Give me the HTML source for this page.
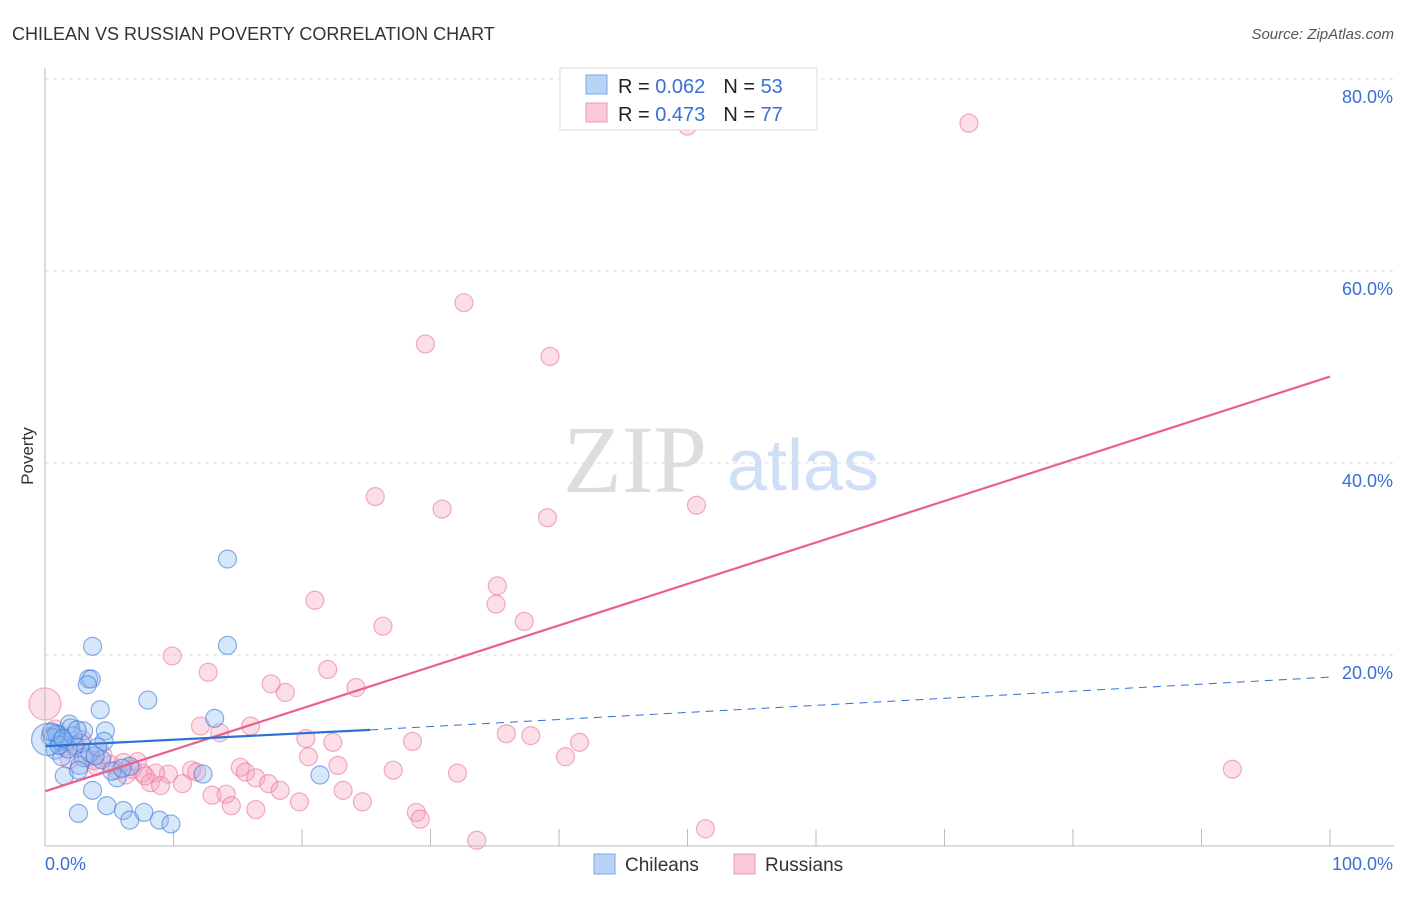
<!DOCTYPE html>
<html><head><meta charset="utf-8"><style>
body{margin:0;background:#fff;font-family:"Liberation Sans",sans-serif;}
#wrap{position:relative;width:1406px;height:892px;}
</style></head><body>
<div id="wrap">
<svg id="svg" width="1406" height="892">
<text x="12" y="40" font-size="18" fill="#333">CHILEAN VS RUSSIAN POVERTY CORRELATION CHART</text>
<text x="1394" y="39" font-size="15" fill="#555" font-style="italic" text-anchor="end">Source: ZipAtlas.com</text>
<text x="33" y="456" font-size="17" fill="#333" transform="rotate(-90 33 456)" text-anchor="middle">Poverty</text>
<text x="635" y="492" font-size="96" fill="#ddd" font-family="Liberation Serif,serif" text-anchor="middle">ZIP</text>
<text x="803" y="490" font-size="72" fill="#cfdff5" text-anchor="middle">atlas</text>
<g id="grid"></g><g id="pts"></g><g id="lines"></g>
<line x1="45" y1="68" x2="45" y2="846" stroke="#bbb"/>
<line x1="45" y1="846" x2="1394" y2="846" stroke="#bbb"/>
<text x="45" y="870" font-size="18" fill="#3a6fd8">0.0%</text>
<text x="1393" y="870" font-size="18" fill="#3a6fd8" text-anchor="end">100.0%</text>
<g>
<rect x="560" y="68" width="257" height="62" fill="#fff" stroke="#ddd"/>
<rect x="586" y="75" width="21" height="19" fill="#b8d3f5" stroke="#7aa7e6"/>
<rect x="586" y="103" width="21" height="19" fill="#fbc8d7" stroke="#ee9ab4"/>
<text x="618" y="93" font-size="20" fill="#222">R = <tspan fill="#3a6fd8">0.062</tspan><tspan dx="18">N = </tspan><tspan fill="#3a6fd8">53</tspan></text>
<text x="618" y="121" font-size="20" fill="#222">R = <tspan fill="#3a6fd8">0.473</tspan><tspan dx="18">N = </tspan><tspan fill="#3a6fd8">77</tspan></text>
</g>
<g>
<rect x="594" y="854" width="21" height="20" fill="#b8d3f5" stroke="#7aa7e6"/>
<text x="625" y="871" font-size="19" fill="#333">Chileans</text>
<rect x="734" y="854" width="21" height="20" fill="#fbc8d7" stroke="#ee9ab4"/>
<text x="765" y="871" font-size="19" fill="#333">Russians</text>
</g>
</svg></div>
<script>
const yTicks=[20,40,60,80];
const yTickLabels=["20.0%","40.0%","60.0%","80.0%"];
const xMinor=[10,20,30,40,50,60,70,80,90,100];
const chileX=[14.2,3.7,14.2,3.4,3.6,3.3,8.0,4.3,13.2,1.9,4.7,3.0,1.0,0.4,1.6,4.6,2.3,0.8,1.3,3.0,4.4,2.7,6.6,12.3,1.5,5.6,21.4,3.7,4.8,6.1,7.7,2.6,6.6,8.9,9.8,2.6,0.2,0.6,1.2,2.0,2.8,1.8,0.9,3.5,2.2,1.1,0.5,4.1,5.2,1.4,2.5,3.9,6.0];
const chileY=[30.0,20.9,21.0,17.5,17.5,16.9,15.3,14.3,13.4,12.8,12.1,12.1,11.7,11.5,11.0,11.0,10.5,10.1,9.4,9.3,9.1,8.5,8.4,7.6,7.4,7.2,7.5,5.9,4.3,3.8,3.6,3.5,2.8,2.8,2.4,8.0,11.2,11.4,11.0,12.4,10.8,10.2,11.8,9.8,11.6,10.6,12.0,10.4,7.9,11.3,12.2,9.5,8.2];
const chileR=[9,9,9,9,9,9,9,9,9,9,9,9,9,9,9,9,9,9,9,9,9,9,9,9,9,9,9,9,9,9,9,9,9,9,9,9,16,9,9,9,9,9,9,9,9,9,9,9,9,9,9,9,9];
const rusX=[50,71.9,32.6,29.6,39.3,25.7,30.9,39.1,50.7,35.2,35.1,21.0,37.3,26.3,9.9,12.7,22.0,17.6,18.7,24.2,16.0,12.1,13.6,20.3,22.4,28.6,35.9,37.8,41.6,20.5,40.5,92.4,27.1,32.1,22.8,15.2,15.6,11.4,11.8,16.4,9.6,8.6,7.6,7.2,6.3,5.1,4.0,8.2,9.0,10.7,17.4,18.3,23.2,13.0,14.1,14.5,16.4,19.8,24.7,28.9,29.2,33.6,51.4,0,1.2,1.9,3.3,2.4,6.8,5.6,4.5,0.8,2.9,3.8,7.8,6.1,1.5];
const rusY=[75.1,75.4,56.7,52.4,51.1,36.5,35.2,34.3,35.6,27.2,25.3,25.7,23.5,23.0,19.9,18.2,18.5,17.0,16.1,16.6,12.6,12.6,11.9,11.3,10.9,11.0,11.8,11.6,10.9,9.4,9.4,8.1,8.0,7.7,8.5,8.3,7.8,8.0,7.8,7.2,7.6,7.7,7.7,8.9,7.5,8.6,8.4,6.7,6.4,6.6,6.6,5.9,5.9,5.4,5.5,4.3,3.9,4.7,4.7,3.6,2.9,0.7,1.9,14.9,11.7,9.1,9.3,10.6,8.1,8.0,9.6,12.3,11.2,9.0,7.4,8.8,10.4];
const rusR=rusX.map((v,i)=>i===63?16:9);
const blueLine=[[0,10.5],[25.3,12.2]];
const blueDash=[[25.3,12.2],[100,17.7]];
const pinkLine=[[0,5.8],[100,49.0]];
const X=v=>45+v*12.85, Y=v=>847-v*9.6;
const NS="http://www.w3.org/2000/svg";
function mk(t,a,p){const e=document.createElementNS(NS,t);for(const k in a)e.setAttribute(k,a[k]);p.appendChild(e);return e;}
const grid=document.getElementById('grid'),pts=document.getElementById('pts'),lines=document.getElementById('lines');
yTicks.forEach((t,i)=>{
 const l=mk('line',{x1:45,x2:1394,y1:Y(t),y2:Y(t),stroke:'#ddd','stroke-dasharray':'4,4'},grid);
 
 
 const tx=mk('text',{x:1393,y:Y(t)+24,'font-size':18,fill:'#3a6fd8','text-anchor':'end'},grid);
 tx.textContent=yTickLabels[i];
 
 
});
xMinor.forEach(t=>{
 const l=mk('line',{x1:X(t),x2:X(t),y1:829,y2:846,stroke:'#bbb'},grid);
 
 
});
rusX.forEach((v,i)=>{
 const c=mk('circle',{cx:X(v),cy:Y(rusY[i]),r:rusR[i],fill:'rgba(246,160,188,0.35)',stroke:'rgba(232,120,155,0.6)','stroke-width':1.2},pts);
 
 
});
chileX.forEach((v,i)=>{
 const c=mk('circle',{cx:X(v),cy:Y(chileY[i]),r:chileR[i],fill:'rgba(140,185,240,0.35)',stroke:'rgba(60,120,220,0.6)','stroke-width':1.2},pts);
 
 
});
function ln(p,st,dash,name,w){const l=mk('line',{x1:X(p[0][0]),y1:Y(p[0][1]),x2:X(p[1][0]),y2:Y(p[1][1]),stroke:st,'stroke-width':w},lines);if(dash)l.setAttribute('stroke-dasharray',dash);
 
 }
ln(pinkLine,'#e8608e',null,'russian-trend-line',2.2);
ln(blueLine,'#2f6fd6',null,'chilean-trend-line',2.2);
ln(blueDash,'#2f6fd6','8,6','chilean-trend-extension',1);
</script></body></html>
